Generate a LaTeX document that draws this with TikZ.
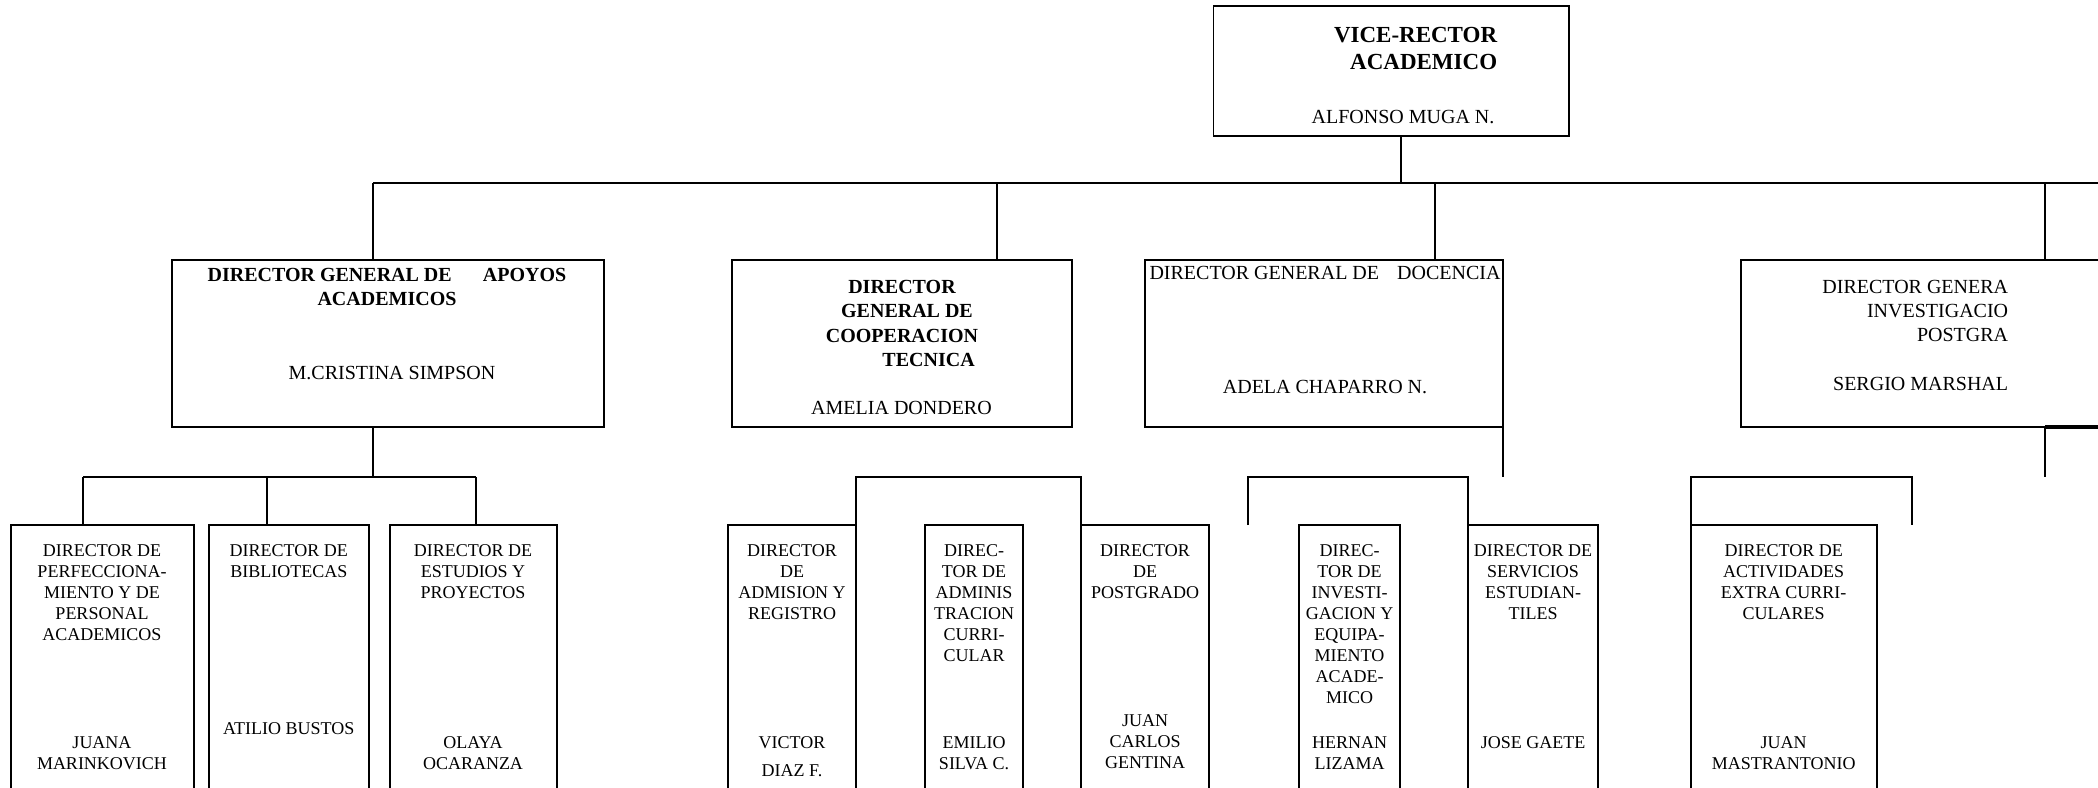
\documentclass[tikz,border=0pt]{standalone}
\usepackage{fontspec}
\setmainfont{Liberation Serif}
\begin{document}
\begin{tikzpicture}[x=0.5pt, y=-0.5pt, line width=0.85pt,
    box/.style={draw, rectangle, inner sep=0pt, outer sep=0pt},
    bossbox/.style={box, minimum height=83.5pt},
    unitbox/.style={box, minimum height=152.5pt},
    head/.style={font=\bfseries\fontsize{10}{12.2}\selectfont, align=center, inner sep=0pt, anchor=north},
    who/.style={font=\fontsize{10}{12}\selectfont, align=center, inner sep=0pt, anchor=north},
    unit/.style={font=\fontsize{9}{10.5}\selectfont, align=center, inner sep=0pt, anchor=north}]
  \useasboundingbox (0,0) rectangle (2098,787);
  \clip (0,0) rectangle (2098,787);

  \node[box, minimum width=177.75pt, minimum height=65pt] (vr) at (1391.25,70.7) {};
  \node[bossbox, minimum width=216pt] (apo) at (388,343.5) {};
  \node[bossbox, minimum width=170pt] (coop) at (902,343.5) {};
  \node[bossbox, minimum width=179pt] (doc) at (1324,343.5) {};
  \node[bossbox, minimum width=204.5pt] (inv) at (1945.5,343.5) {};

  \node[unitbox, minimum width=91.75pt] (perf) at (102.45,677.5) {};
  \node[unitbox, minimum width=79.85pt] (bib) at (288.85,677.5) {};
  \node[unitbox, minimum width=83.5pt] (est) at (473.2,677.5) {};
  \node[unitbox, minimum width=64pt] (adm) at (792,677.5) {};
  \node[unitbox, minimum width=49pt] (adc) at (974,677.5) {};
  \node[unitbox, minimum width=64pt] (pos) at (1145,677.5) {};
  \node[unitbox, minimum width=50.5pt] (ieq) at (1349.5,677.5) {};
  \node[unitbox, minimum width=65pt] (srv) at (1533,677.5) {};
  \node[unitbox, minimum width=93pt] (act) at (1783.75,677.5) {};

  \node[head, font=\bfseries\fontsize{11.5}{13.3}\selectfont, align=right, anchor=north east] (vrt) at (1498,26.7) {VICE-RECTOR\\ACADEMICO};
  \node[who] (vrn) at (1403,109) {ALFONSO MUGA N.};
  \node[head] (apot) at (387,267.3) {DIRECTOR GENERAL DE\hspace{15.6pt}APOYOS\\ACADEMICOS};
  \node[who] (apon) at (392,365) {M.CRISTINA SIMPSON};
  \node[head] (coopt) at (902,279.3) {DIRECTOR\\\hspace*{5pt}GENERAL DE\\COOPERACION\\\hspace*{26.6pt}TECNICA};
  \node[who] (coopn) at (901.5,400.7) {AMELIA DONDERO};
  \node[who] (doct) at (1325,265) {DIRECTOR GENERAL DE\hspace{9pt}DOCENCIA};
  \node[who] (docn) at (1325,379.3) {ADELA CHAPARRO N.};
  \node[who, align=right, anchor=north east] (invt) at (2009,279.3) {DIRECTOR GENERA\\INVESTIGACIO\\POSTGRA};
  \node[who, anchor=north east] (invn) at (2009,376.7) {SERGIO MARSHAL};

  \node[unit] (perft) at (102,543.3) {DIRECTOR DE\\PERFECCIONA-\\MIENTO Y DE\\PERSONAL\\ACADEMICOS};
  \node[unit] (perfn) at (102,735.5) {JUANA\\MARINKOVICH};
  \node[unit] (bibt) at (288.8,543.3) {DIRECTOR DE\\BIBLIOTECAS};
  \node[unit] (bibn) at (288.8,721.7) {ATILIO BUSTOS};
  \node[unit] (estt) at (473,543.3) {DIRECTOR DE\\ESTUDIOS Y\\PROYECTOS};
  \node[unit] (estn) at (473,735.5) {OLAYA\\OCARANZA};
  \node[unit] (admt) at (792,543.3) {DIRECTOR\\DE\\ADMISION Y\\REGISTRO};
  \node[unit] (admn) at (792,735.5) {VICTOR\\[3.7pt]DIAZ F.};
  \node[unit] (adct) at (974,543.3) {DIREC-\\TOR DE\\ADMINIS\\TRACION\\CURRI-\\CULAR};
  \node[unit] (adcn) at (974,735.5) {EMILIO\\SILVA C.};
  \node[unit] (post) at (1145,543.3) {DIRECTOR\\DE\\POSTGRADO};
  \node[unit] (posn) at (1145,714) {JUAN\\CARLOS\\GENTINA};
  \node[unit] (ieqt) at (1349.5,543.3) {DIREC-\\TOR DE\\INVESTI-\\GACION Y\\EQUIPA-\\MIENTO\\ACADE-\\MICO};
  \node[unit] (ieqn) at (1349.5,735.5) {HERNAN\\LIZAMA};
  \node[unit] (srvt) at (1533,543.3) {DIRECTOR DE\\SERVICIOS\\ESTUDIAN-\\TILES};
  \node[unit] (srvn) at (1533,735.5) {JOSE GAETE};
  \node[unit] (actt) at (1783.7,543.3) {DIRECTOR DE\\ACTIVIDADES\\EXTRA CURRI-\\CULARES};
  \node[unit] (actn) at (1783.7,735.5) {JUAN\\MASTRANTONIO};

  \coordinate (dVr) at (1401,183);
  \coordinate (busL) at (373,183);
  \coordinate (busR) at (2098,183);
  \coordinate (dCoop) at (997,183);
  \coordinate (dDoc) at (1434.7,183);
  \coordinate (dInv) at (2045,183);
  \coordinate (aL) at (83,477);
  \coordinate (aM) at (267,477);
  \coordinate (aR) at (476,477);
  \coordinate (dStub) at (1248,525);
  \coordinate (iStub) at (1912,525);

  \draw (dVr |- vr.south) -- (dVr);
  \draw (busL) -- (busR);
  \draw (busL) -- (busL |- apo.north);
  \draw (dCoop) -- (dCoop |- coop.north);
  \draw (dDoc) -- (dDoc |- doc.north);
  \draw (dInv) -- (dInv |- inv.north);

  \draw (busL |- apo.south) -- (busL |- aL);
  \draw (aL) -- (aR);
  \draw (aL) -- (aL |- perf.north);
  \draw (aM) -- (aM |- bib.north);
  \draw (aR) -- (aR |- est.north);
  \draw (adm.north east) -- ++(0,-48) -| (pos.north west);
  \draw (doc.south east) -- ++(0,50);
  \draw (dStub) -- ++(0,-48) -| (srv.north west);
  \draw (dInv |- inv.south) -- ++(0,50);
  \draw[line width=1.7pt, yshift=-0.45pt] (dInv |- inv.south) -- (busR |- inv.south);
  \draw (act.north west) -- ++(0,-48) -| (iStub);
\end{tikzpicture}
\end{document}
